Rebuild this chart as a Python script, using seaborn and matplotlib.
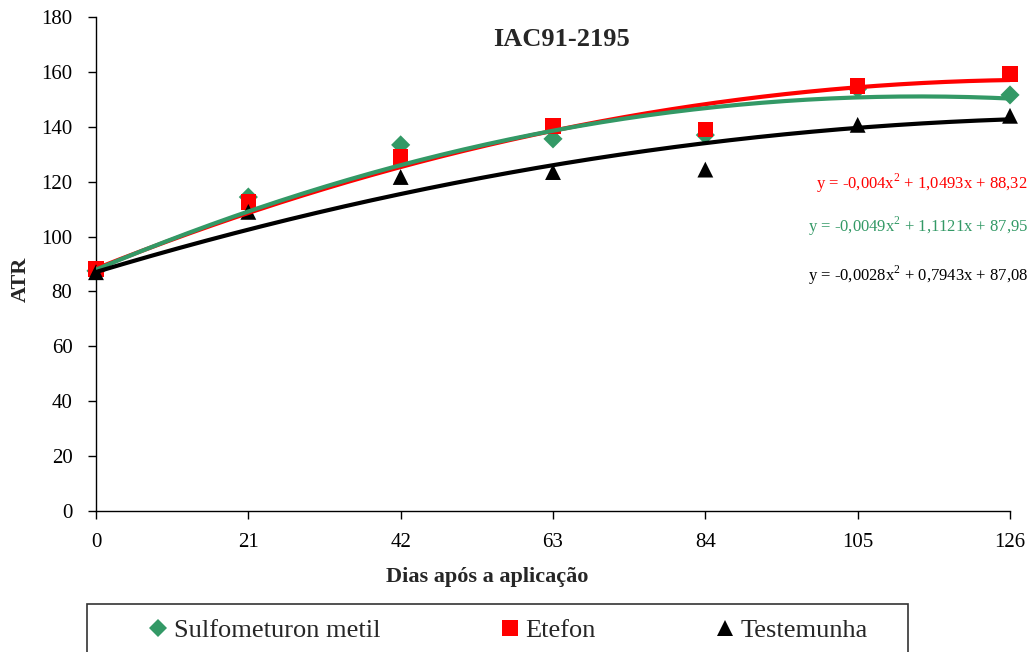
import matplotlib
matplotlib.use("Agg")
import matplotlib.pyplot as plt
from matplotlib.patches import Rectangle
import seaborn as sns
import pandas as pd
import numpy as np

sns.set_theme(style="white")
plt.rcParams['font.family'] = ['Liberation Serif', 'DejaVu Serif']
plt.rcParams['mathtext.fontset'] = 'custom'
plt.rcParams['mathtext.rm'] = 'Liberation Serif'

dias = [0, 21, 42, 63, 84, 105, 126]
sulfometuron = [87.5, 114.4, 133.4, 135.6, 137.0, 153.8, 151.6]
etefon = [88.2, 112.5, 129.0, 140.3, 139.0, 154.9, 159.3]
testemunha = [87.0, 109.0, 121.7, 123.5, 124.4, 140.7, 144.0]

# trendline coefficients as printed on the chart (a, b, c for a*x^2 + b*x + c)
coef_sulfometuron = [-0.0049, 1.1121, 87.95]
coef_etefon = [-0.004, 1.0493, 88.32]
coef_testemunha = [-0.0028, 0.7943, 87.08]

series_names = ["Sulfometuron metil", "Etefon", "Testemunha"]
colors = {"Sulfometuron metil": "#339966", "Etefon": "#FF0000", "Testemunha": "#000000"}
markers = {"Sulfometuron metil": "D", "Etefon": "s", "Testemunha": "^"}
sizes = {"Sulfometuron metil": 95, "Etefon": 125, "Testemunha": 130}
equations = ["y = -0,004x$^2$ + 1,0493x + 88,32",
             "y = -0,0049x$^2$ + 1,1121x + 87,95",
             "y = -0,0028x$^2$ + 0,7943x + 87,08"]

df = pd.DataFrame({
    "Dias": dias * 3,
    "ATR": sulfometuron + etefon + testemunha,
    "Tratamento": [series_names[0]] * 7 + [series_names[1]] * 7 + [series_names[2]] * 7,
})

xs = np.linspace(min(dias), max(dias), 200)
coefs = {"Sulfometuron metil": coef_sulfometuron, "Etefon": coef_etefon,
         "Testemunha": coef_testemunha}
trend = pd.concat([pd.DataFrame({"Dias": xs, "ATR": np.polyval(coefs[n], xs), "Tratamento": n})
                   for n in ["Etefon", "Sulfometuron metil", "Testemunha"]])

fig = plt.figure(figsize=(10.32, 6.52), dpi=100)
ax = fig.add_axes([96/1032, 1-511/652, (1010-96)/1032, (511-17)/652])

sns.scatterplot(data=df, x="Dias", y="ATR", hue="Tratamento", style="Tratamento",
                size="Tratamento", sizes=sizes, palette=colors, markers=markers,
                hue_order=series_names, style_order=series_names, size_order=series_names,
                edgecolor="none", linewidth=0, ax=ax, legend=False, zorder=3, clip_on=False)

sns.lineplot(data=trend, x="Dias", y="ATR", hue="Tratamento", palette=colors,
             hue_order=["Etefon", "Sulfometuron metil", "Testemunha"], lw=3, ax=ax,
             legend=False, zorder=4, sort=False)

ax.set_xlim(0, 126)
ax.set_ylim(0, 180)
ax.set_xticks(dias)
ax.set_yticks(range(0, 181, 20))
ax.tick_params(axis="both", which="major", labelsize=15, direction="out", length=6,
               width=1, color="black", bottom=True, left=True, labelcolor="black")
ax.tick_params(axis="x", pad=10)
ax.tick_params(axis="y", pad=11)
for s in ["top", "right"]:
    ax.spines[s].set_visible(False)
for s in ["left", "bottom"]:
    ax.spines[s].set_color("black")
    ax.spines[s].set_linewidth(1)

ax.set_xlabel("")
ax.set_ylabel("")
fig.text(487/1032, 1 - 577/652, "Dias após a aplicação", ha="center", va="center",
         fontsize=16, fontweight="bold")
fig.text(21/1032, 1 - 279/652, "ATR", ha="center", va="center", rotation=90,
         fontsize=16, fontweight="bold")
fig.text(562/1032, 1 - 40/652, "IAC91-2195", ha="center", va="center",
         fontsize=19, fontweight="bold")

eq_colors = [colors["Etefon"], colors["Sulfometuron metil"], colors["Testemunha"]]
eq_y = [183, 226, 275]
for eq, c, yp in zip(equations, eq_colors, eq_y):
    fig.text(1028/1032, 1 - yp/652, eq, ha="right", va="center", fontsize=12, color=c)

# legend
from matplotlib.lines import Line2D
handles = [Line2D([], [], ls="none", marker=markers[n], color=colors[n], markeredgewidth=0,
                  markersize={"Sulfometuron metil": 9, "Etefon": 11, "Testemunha": 11}[n])
           for n in series_names]
leg = fig.legend(handles, series_names, loc="center left", ncol=3,
                 bbox_to_anchor=(150/1032, 1 - 630/652), fontsize=19, frameon=False,
                 handlelength=0.6, handletextpad=0.3, columnspacing=4.6,
                 borderpad=0, borderaxespad=0)
fig.patches.append(Rectangle((87/1032, -0.05), (908-87)/1032, 0.05 + 1 - 604/652,
                             transform=fig.transFigure, fill=False, edgecolor="#333333",
                             linewidth=1.2))

fig.savefig("out.png", dpi=100)
